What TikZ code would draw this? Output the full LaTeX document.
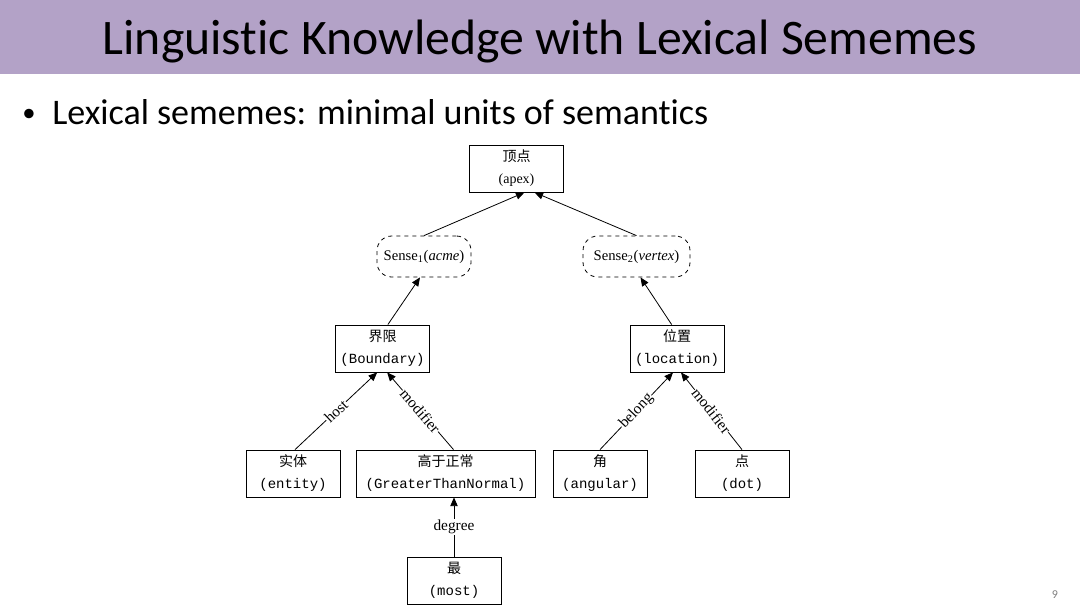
\documentclass[tikz,border=0pt]{standalone}
\usepackage{fontspec}
\setmainfont{Liberation Serif}
\setmonofont{Liberation Mono}
\newfontfamily\cjk{Noto Sans CJK SC}
\newfontfamily\calibri[Ligatures=NoCommon]{Carlito}
\usetikzlibrary{arrows.meta}
\definecolor{band}{RGB}{179,162,199}
\begin{document}
\begin{tikzpicture}[x=0.75pt,y=-0.75pt,
  box/.style={draw,line width=0.6pt,minimum width=70.5pt,minimum height=35.25pt,align=center,inner sep=1pt,
    font=\fontsize{10.5pt}{16.5pt}\selectfont},
  sense/.style={draw,dashed,line width=0.6pt,rounded corners=11pt,minimum width=70.5pt,minimum height=30.75pt,align=center,
    font=\fontsize{11pt}{13pt}\selectfont},
  arr/.style={line width=0.6pt,-{Triangle[length=6.5pt,width=5.5pt]}},
  lab/.style={fill=white,inner sep=0.5pt,font=\fontsize{11.5pt}{13pt}\selectfont}]
\useasboundingbox (0,0) rectangle (1080,608);
\fill[white] (0,0) rectangle (1080,608);
\fill[band] (0,0) rectangle (1080,74);
\node[anchor=base,font=\calibri\fontsize{37.3pt}{44pt}\selectfont] (title) at (540,54) {Linguistic Knowledge with Lexical Sememes};
\node[anchor=base west,font=\calibri\fontsize{20pt}{24pt}\selectfont,inner sep=0pt] (bullet) at (22,121) {•};
\node[anchor=base west,font=\calibri\fontsize{27pt}{32pt}\selectfont,inner sep=0pt] (sub) at (52,124) {Lexical sememes: minimal units of semantics};
\node[anchor=center,font=\calibri\fontsize{9pt}{11pt}\selectfont,text=gray] (pg) at (1055,595) {9};

\node[box] (apex) at (516.5,168.5) {{\cjk 顶点}\\(apex)};
\node[sense] (s1) at (424,256.5) {Sense\textsubscript{1}(\textit{acme})};
\node[sense,minimum width=80.25pt] (s2) at (636.5,256.5) {Sense\textsubscript{2}(\textit{vertex})};
\node[box] (bnd) at (382.5,348.5) {{\cjk 界限}\\\texttt{(Boundary)}};
\node[box] (loc) at (677,348.5) {{\cjk 位置}\\\texttt{(location)}};
\node[box] (ent) at (293,473.5) {{\cjk 实体}\\\texttt{(entity)}};
\node[box,minimum width=134.25pt] (gtn) at (445.5,473.5) {{\cjk 高于正常}\\\texttt{(GreaterThanNormal)}};
\node[box] (ang) at (600,473.5) {{\cjk 角}\\\texttt{(angular)}};
\node[box] (dot) at (742,473.5) {{\cjk 点}\\\texttt{(dot)}};
\node[box] (most) at (454,580.5) {{\cjk 最}\\\texttt{(most)}};

\draw[arr] (s1.north) -- ([xshift=6pt]apex.south);
\draw[arr] (s2.north) -- ([xshift=13.5pt]apex.south);
\draw[arr] ([xshift=4pt]bnd.north) -- ([xshift=-3pt]s1.south);
\draw[arr] ([xshift=-4pt]loc.north) -- ([xshift=3pt]s2.south);
\draw[arr] ([xshift=1.5pt]ent.north) -- node[lab,sloped] {host} ([xshift=-4pt]bnd.south);
\draw[arr] ([xshift=6pt]gtn.north) -- node[lab,sloped] {modifier} ([xshift=3.5pt]bnd.south);
\draw[arr] (ang.north) -- node[lab,sloped] {belong} ([xshift=-3pt]loc.south);
\draw[arr] (dot.north) -- node[lab,sloped] {modifier} ([xshift=3pt]loc.south);
\draw[arr] (most.north) -- node[lab] {degree} ([xshift=6.375pt]gtn.south);
\end{tikzpicture}
\end{document}
